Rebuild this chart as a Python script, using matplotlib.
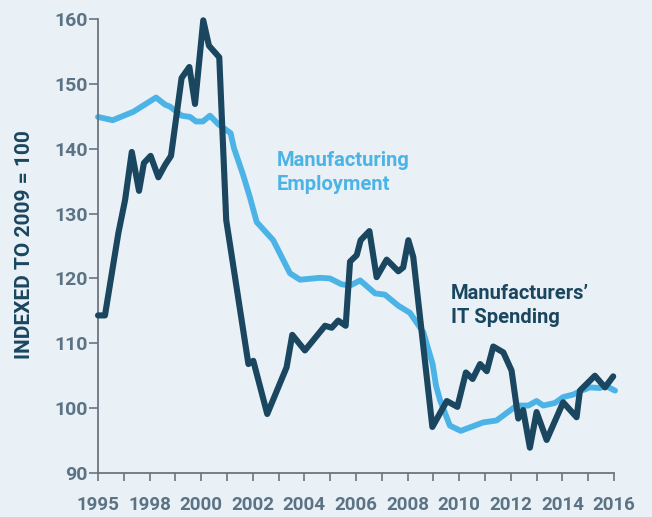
import matplotlib
matplotlib.use("Agg")
import matplotlib.pyplot as plt

# Manufacturers' IT spending vs manufacturing employment, indexed to 2009 = 100
it_years = [1996.0, 1996.27, 1996.79, 1997.05, 1997.31, 1997.59, 1997.78, 1998.04,
            1998.34, 1998.60, 1998.83, 1999.24, 1999.54, 1999.76, 2000.08, 2000.30,
            2000.70, 2000.97, 2001.83, 2002.02, 2002.56, 2003.31, 2003.53, 2004.02,
            2004.80, 2005.06, 2005.31, 2005.60, 2005.77, 2006.03, 2006.18, 2006.52,
            2006.80, 2007.19, 2007.64, 2007.83, 2008.03, 2008.22, 2008.96, 2009.52,
            2009.93, 2010.26, 2010.52, 2010.81, 2011.07, 2011.32, 2011.71, 2012.03,
            2012.29, 2012.48, 2012.74, 2013.00, 2013.39, 2014.03, 2014.55, 2014.68,
            2015.26, 2015.65, 2015.97]
it_spending = [114.3, 114.3, 127.0, 132.1, 139.5, 133.5, 137.8, 138.9,
               135.6, 137.5, 138.9, 150.9, 152.6, 146.9, 159.8, 155.9,
               154.1, 129.0, 106.8, 107.3, 99.1, 106.3, 111.3, 108.9,
               112.7, 112.4, 113.5, 112.7, 122.6, 123.6, 125.9, 127.3,
               120.2, 122.9, 121.1, 121.7, 125.9, 123.3, 97.1, 101.1,
               100.2, 105.5, 104.5, 106.8, 105.7, 109.5, 108.6, 105.8,
               98.4, 99.7, 93.9, 99.4, 95.1, 100.9, 98.6, 102.7,
               105.0, 103.2, 104.9]

emp_years = [1996.0, 1996.57, 1997.37, 1998.25, 1998.60, 1998.79, 1999.24, 1999.57,
             1999.80, 2000.06, 2000.34, 2000.66, 2001.14, 2001.27, 2001.63, 2001.89,
             2002.15, 2002.79, 2003.44, 2003.83, 2004.60, 2004.99, 2005.44, 2005.77,
             2006.16, 2006.74, 2007.12, 2007.64, 2008.09, 2008.61, 2008.97, 2009.10,
             2009.26, 2009.64, 2010.06, 2010.93, 2011.45, 2012.23, 2012.68, 2013.00,
             2013.26, 2013.71, 2014.03, 2014.42, 2014.74, 2015.07, 2015.46, 2015.65,
             2016.04]
employment = [144.9, 144.4, 145.7, 147.9, 146.8, 146.5, 145.1, 144.9,
              144.2, 144.2, 145.1, 143.8, 142.4, 140.1, 135.9, 132.5,
              128.7, 125.9, 120.8, 119.8, 120.1, 120.0, 119.1, 118.9,
              119.7, 117.7, 117.5, 115.8, 114.7, 111.7, 106.8, 103.5,
              101.2, 97.3, 96.5, 97.8, 98.1, 100.4, 100.4, 101.1,
              100.4, 100.8, 101.7, 102.1, 102.7, 103.2, 103.1, 103.5,
              102.7]

y_ticks = [90, 100, 110, 120, 130, 140, 150, 160]
x_tick_pos = list(range(1996, 2017, 2))
x_tick_labels = ['1995', '1998', '2000', '2002', '2004', '2006',
                 '2008', '2010', '2012', '2014', '2016']

bg = '#E9F1F6'
dark = '#1A4660'
light = '#4BB3E6'
grey = '#5B7384'
axis_col = '#6A7580'
font = ['Roboto', 'DejaVu Sans']

fig = plt.figure(figsize=(6.52, 5.17), dpi=100, facecolor=bg)
ax = fig.add_axes([0.1503, 0.0851, 0.7914, 0.8781])
ax.set_facecolor(bg)

ax.plot(emp_years, employment, color=light, lw=4.2, solid_joinstyle='round',
        solid_capstyle='round', clip_on=False, zorder=2)
ax.plot(it_years, it_spending, color=dark, lw=4.4, solid_joinstyle='round',
        solid_capstyle='round', clip_on=False, zorder=3)

ax.set_xlim(1996, 2016)
ax.set_ylim(90, 160)

for s in ['top', 'right']:
    ax.spines[s].set_visible(False)
for s in ['left', 'bottom']:
    ax.spines[s].set_color(axis_col)
    ax.spines[s].set_linewidth(1.3)

ax.set_yticks(y_ticks)
ax.set_yticklabels([str(v) for v in y_ticks])
ax.set_xticks(range(1996, 2017))
ax.set_xticklabels([x_tick_labels[x_tick_pos.index(y)] if y in x_tick_pos else ''
                    for y in range(1996, 2017)])
ax.tick_params(axis='y', length=6.5, width=1.2, color=axis_col, pad=1,
               labelcolor=grey, labelsize=14)
ax.tick_params(axis='x', length=5.5, width=1.2, color=axis_col, pad=11,
               labelcolor=grey, labelsize=13.5)
for lab in ax.get_xticklabels() + ax.get_yticklabels():
    lab.set_fontweight('bold')
    lab.set_family(font)

fig.text(25 / 652, 1 - 245 / 517, 'INDEXED TO 2009 = 100', rotation=90,
         ha='center', va='center', color=dark, fontsize=15, fontweight='bold',
         family=font)

# labels placed by the baseline of their last line
fig.text(277 / 652, 1 - 190 / 517, 'Manufacturing\nEmployment', ha='left',
         va='baseline', color=light, fontsize=14.5, fontweight='bold',
         family=font, linespacing=1.35)
fig.text(451 / 652, 1 - 323 / 517, 'Manufacturers\u2019\nIT Spending', ha='left',
         va='baseline', color=dark, fontsize=14.5, fontweight='bold',
         family=font, linespacing=1.35)

fig.savefig('out.png', dpi=100, facecolor=bg)
